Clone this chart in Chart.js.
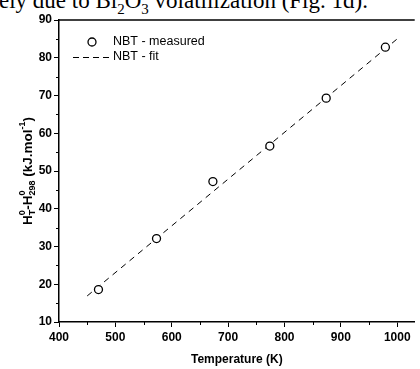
<!DOCTYPE html>
<html>
<head>
<meta charset="utf-8">
<script src="https://cdn.jsdelivr.net/npm/chart.js@4.4.0/dist/chart.umd.min.js"></script>
<style>
  body { margin: 0; background: #fff; overflow: hidden; }
  #wrap { position: relative; width: 420px; height: 369px; }
  #caption {
    position: absolute; left: -1px; top: -12px; white-space: nowrap;
    font-family: "Liberation Serif", serif; font-size: 23px; color: #000;
  }
  canvas { position: absolute; left: 0; top: 0; }
</style>
</head>
<body>
<div id="wrap">
  <div id="caption">ely due to Bi<sub style="font-size:15px">2</sub>O<sub style="font-size:15px">3</sub> volatilization (Fig. 1d).</div>
  <canvas id="myChart" width="420" height="369"></canvas>
</div>
<script>
// measured enthalpy increments
var temps = [470, 573, 673, 774, 874, 979];
var enthalpy = [18.6, 32.1, 47.2, 56.6, 69.3, 82.8];
// linear fit, drawn between its two end points
var fitTemps = [450, 1000];
var fitValues = [16.9, 85.0];

var xTicks = [400, 500, 600, 700, 800, 900, 1000];
var yTicks = [10, 20, 30, 40, 50, 60, 70, 80, 90];

var tickFont = { family: 'Liberation Sans', size: 12, weight: 'bold' };

// minor ticks, top frame line, legend and y title
var extras = {
  id: 'extras',
  afterDraw: function (chart) {
    var c = chart.ctx, a = chart.chartArea;
    var xs = chart.scales.x, ys = chart.scales.y;
    c.save();
    c.strokeStyle = '#000';
    c.lineWidth = 1;
    c.beginPath();
    for (var v = 450; v < 1031; v += 100) {
      var px = Math.round(xs.getPixelForValue(v)) + 0.5;
      c.moveTo(px, a.bottom); c.lineTo(px, a.bottom + 3);
    }
    for (var w = 15; w < 90; w += 10) {
      var py = Math.round(ys.getPixelForValue(w)) + 0.5;
      c.moveTo(a.left, py); c.lineTo(a.left - 3, py);
    }
    c.stroke();
    // top frame
    c.lineWidth = 1.5;
    c.beginPath();
    c.moveTo(a.left, a.top); c.lineTo(a.right, a.top);
    c.stroke();

    // legend
    c.lineWidth = 1.3;
    c.fillStyle = '#fff';
    c.beginPath(); c.arc(92, 42, 4, 0, Math.PI * 2); c.fill(); c.stroke();
    c.lineWidth = 1;
    c.setLineDash([6, 4]);
    c.beginPath(); c.moveTo(73, 57.5); c.lineTo(112, 57.5); c.stroke();
    c.setLineDash([]);
    c.fillStyle = '#000';
    c.font = '12.5px "Liberation Sans"';
    c.textBaseline = 'middle';
    c.fillText(chart.data.datasets[0].label, 113, 42);
    c.fillText(chart.data.datasets[1].label, 113, 57);

    // y axis title with sub/superscripts
    c.translate(27, 171);
    c.rotate(-Math.PI / 2);
    var parts = [
      ['H', 0, 13.5], ['0', -7, 9, true], ['T', 3, 9],
      ['-H', 0, 13.5], ['0', -7, 9, true], ['298', 3, 9],
      [' (kJ.mol', 0, 13.5], ['-1', -7, 9], [')', 0, 13.5]
    ];
    var total = 0, i;
    for (i = 0; i < parts.length; i++) {
      c.font = 'bold ' + parts[i][2] + 'px "Liberation Sans"';
      parts[i].w = c.measureText(parts[i][0]).width;
      if (!parts[i][3]) total += parts[i].w;
    }
    var x = -total / 2;
    c.textBaseline = 'alphabetic';
    for (i = 0; i < parts.length; i++) {
      c.font = 'bold ' + parts[i][2] + 'px "Liberation Sans"';
      c.fillText(parts[i][0], x, 5 + parts[i][1]);
      if (!parts[i][3]) x += parts[i].w;
    }
    c.restore();
  }
};

var ctx = document.getElementById("myChart").getContext('2d');
var myChart = new Chart(ctx, {
  type: 'scatter',
  data: {
    datasets: [{
      label: 'NBT - measured',
      data: temps.map(function (t, i) { return { x: t, y: enthalpy[i] }; }),
      pointStyle: 'circle',
      pointRadius: 4,
      pointBorderWidth: 1.3,
      borderColor: '#000',
      backgroundColor: '#fff',
      showLine: false,
      order: 0
    }, {
      label: 'NBT - fit',
      data: fitTemps.map(function (t, i) { return { x: t, y: fitValues[i] }; }),
      showLine: true,
      borderColor: '#000',
      borderWidth: 1,
      borderDash: [6, 5],
      pointRadius: 0,
      order: 1
    }]
  },
  options: {
    responsive: false,
    animation: false,
    layout: { padding: { top: 20, right: 0, left: 0, bottom: 0 } },
    plugins: { legend: { display: false }, tooltip: { enabled: false } },
    scales: {
      x: {
        type: 'linear',
        min: 400, max: 1031,
        afterBuildTicks: function (s) { s.ticks = xTicks.map(function (v) { return { value: v }; }); },
        afterFit: function (s) { s.height = 47; },
        grid: { drawOnChartArea: false, color: '#000', tickLength: 5, tickWidth: 1 },
        border: { color: '#000', width: 1.5 },
        ticks: { color: '#000', font: tickFont, padding: 3, maxRotation: 0,
          callback: function (v) { return String(v); } },
        title: {
          display: true, text: 'Temperature (K)', color: '#000',
          font: tickFont, padding: { top: 6, bottom: 2 }
        }
      },
      y: {
        min: 10, max: 90,
        afterBuildTicks: function (s) { s.ticks = yTicks.map(function (v) { return { value: v }; }); },
        afterFit: function (s) { s.width = 59; },
        grid: { drawOnChartArea: false, color: '#000', tickLength: 5, tickWidth: 1 },
        border: { color: '#000', width: 1.5 },
        ticks: { color: '#000', font: tickFont, padding: 2 }
      }
    }
  },
  plugins: [extras]
});
</script>
</body>
</html>
